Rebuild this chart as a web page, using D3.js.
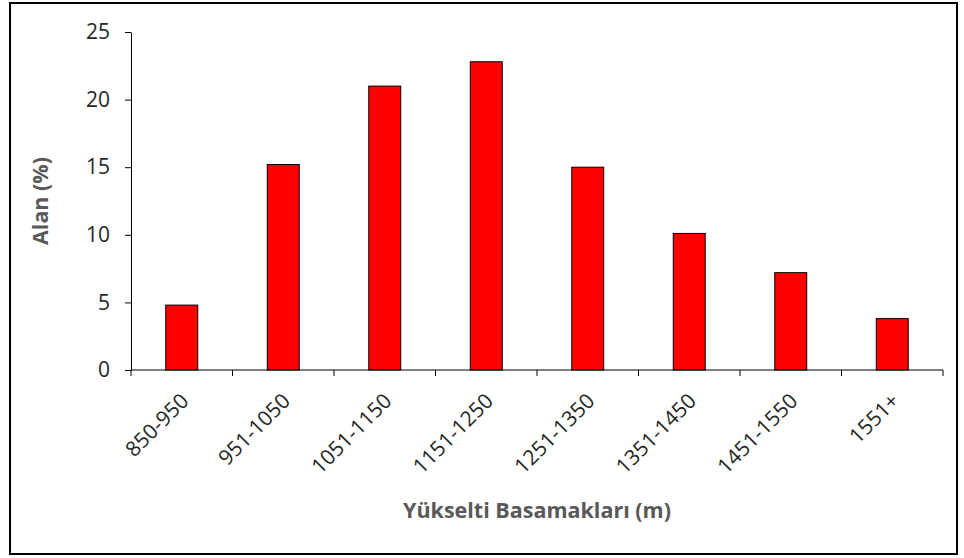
<!DOCTYPE html>
<html>
<head>
<meta charset="utf-8">
<script src="https://cdn.jsdelivr.net/npm/d3@7"></script>
<style>
  body { margin: 0; background: #fff; }
  text { font-family: "Open Sans", sans-serif; }
</style>
</head>
<body>
<div id="chart"></div>
<script>
// data
var categories = ["850-950", "951-1050", "1051-1150", "1151-1250", "1251-1350", "1351-1450", "1451-1550", "1551+"];
var values = [4.8, 15.2, 21.0, 22.8, 15.0, 10.1, 7.2, 3.8];
var yTicks = [0, 5, 10, 15, 20, 25];

var data = categories.map(function(c, i) { return { cat: c, val: values[i] }; });

var W = 964, H = 558;
var margin = { top: 32, right: 21, bottom: 188, left: 131 },
    width = W - margin.left - margin.right,
    height = H - margin.top - margin.bottom;

var svg = d3.select("#chart").append("svg")
  .attr("width", W)
  .attr("height", H);

// outer frame
svg.append("rect")
  .attr("x", 10).attr("y", 3)
  .attr("width", 947).attr("height", 551)
  .attr("fill", "none")
  .attr("stroke", "#000")
  .attr("stroke-width", 2);

var g = svg.append("g")
  .attr("transform", "translate(" + margin.left + "," + margin.top + ")");

var xscale = d3.scaleBand()
  .range([0, width])
  .domain(categories)
  .paddingInner(0.685)
  .paddingOuter(0.3425);

var yscale = d3.scaleLinear()
  .domain([0, 25])
  .range([height, 0]);

// bars
g.selectAll(".bar")
  .data(data)
  .enter()
  .append("rect")
  .attr("class", "bar")
  .attr("x", d => xscale(d.cat))
  .attr("y", d => yscale(d.val))
  .attr("width", xscale.bandwidth())
  .attr("height", d => height - yscale(d.val))
  .attr("fill", "#ff0000")
  .attr("stroke", "#000")
  .attr("stroke-width", 1);

// y axis
var yAxis = g.append("g")
  .call(d3.axisLeft(yscale).tickValues(yTicks).tickSize(6).tickSizeOuter(0));
yAxis.select(".domain").attr("stroke", "#000");
yAxis.selectAll(".tick line").attr("stroke", "#000");
yAxis.selectAll("text")
  .attr("x", -21)
  .style("font-size", "21px")
  .attr("fill", "#262626");

// x axis: ticks at category boundaries
var step = xscale.step();
var xAxis = g.append("g").attr("transform", "translate(0," + height + ")");
xAxis.append("line")
  .attr("x1", 0).attr("x2", width)
  .attr("stroke", "#000");
xAxis.selectAll(".xt")
  .data(d3.range(categories.length + 1))
  .enter()
  .append("line")
  .attr("x1", i => i * step).attr("x2", i => i * step)
  .attr("y1", 0).attr("y2", 6)
  .attr("stroke", "#000");
xAxis.selectAll(".xl")
  .data(categories)
  .enter()
  .append("text")
  .attr("transform", d => "translate(" + (xscale(d) + xscale.bandwidth() / 2 + 3) + ",27) rotate(-45)")
  .attr("text-anchor", "end")
  .attr("dy", "0.35em")
  .style("font-size", "21px")
  .attr("fill", "#262626")
  .text(d => d);

// axis titles
svg.append("text")
  .attr("x", margin.left + width / 2)
  .attr("y", 518)
  .attr("text-anchor", "middle")
  .style("font-size", "21.5px")
  .style("font-weight", "bold")
  .attr("fill", "#595959")
  .text("Yükselti Basamakları (m)");

svg.append("text")
  .attr("transform", "translate(48," + (margin.top + height / 2) + ") rotate(-90)")
  .attr("text-anchor", "middle")
  .style("font-size", "21.5px")
  .style("font-weight", "bold")
  .attr("fill", "#595959")
  .text("Alan (%)");
</script>
</body>
</html>
